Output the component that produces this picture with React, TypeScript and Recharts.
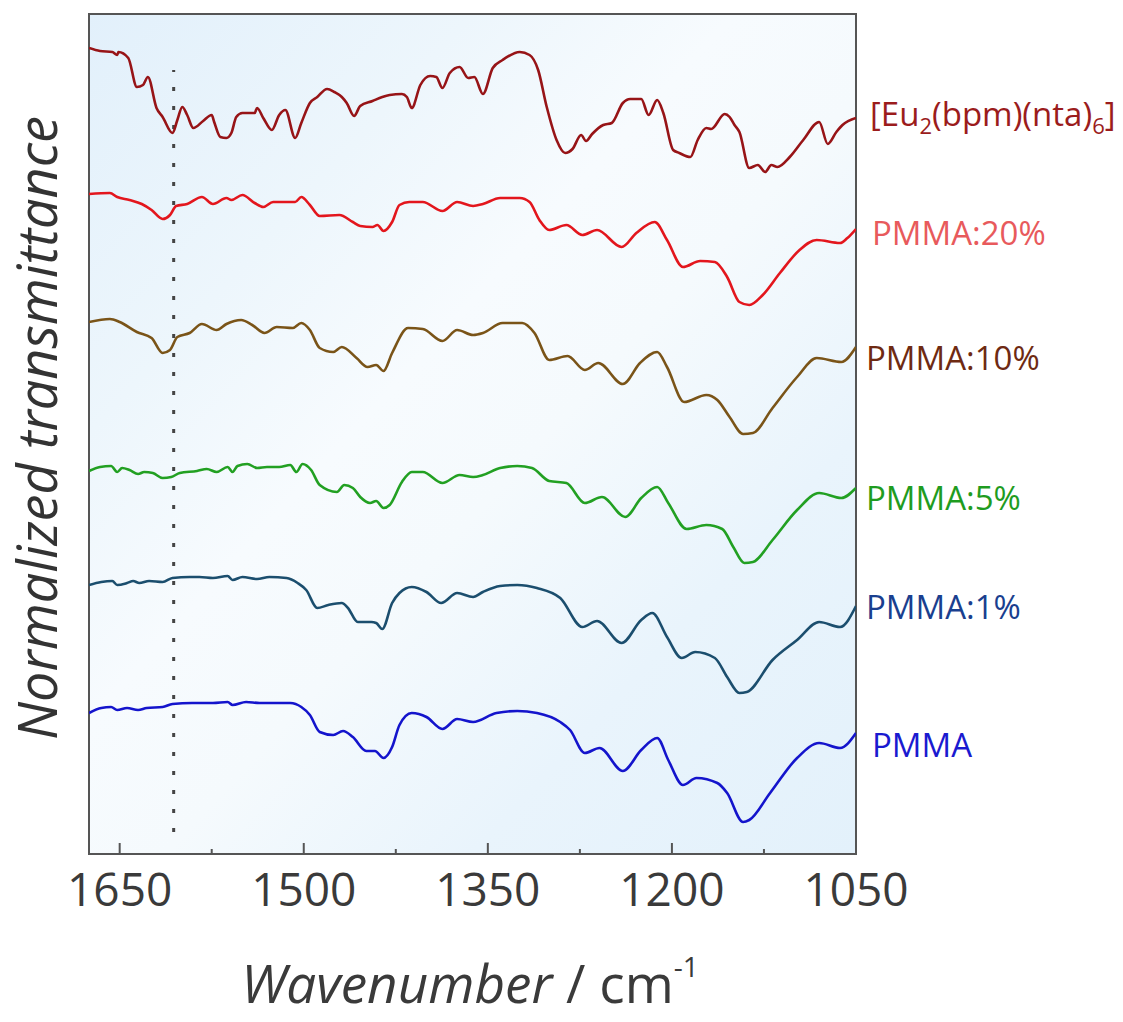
import { LineChart, Line, XAxis, YAxis, ReferenceArea, ReferenceLine } from "recharts";

type Pt = [number, number];

// wavenumber (cm-1), normalized transmittance (offset per trace)
const euSpectrum: Pt[] = [
  [1675, 80.6], [1666, 80.3], [1656, 80.2], [1652, 79.9], [1651, 80.2], [1643, 79.6], [1636, 76.7], [1631, 76.9],
  [1627, 77.7], [1620, 74.6], [1615, 73.7], [1607, 72.1], [1603, 73.4], [1599, 74.7], [1595, 73.9], [1590, 72.6],
  [1582, 73.3], [1575, 73.9], [1573, 73.2], [1568, 71.7], [1563, 71.6], [1559, 72.1], [1555, 73.7], [1550, 74.1],
  [1540, 74.1], [1538, 74.6], [1533, 73.6], [1526, 72.4], [1520, 73.9], [1515, 74.4], [1507, 71.6], [1502, 73.1],
  [1495, 75.1], [1489, 75.7], [1481, 76.5], [1475, 76.2], [1469, 75.7], [1465, 75.1], [1459, 73.8], [1454, 74.8],
  [1444, 75.3], [1436, 75.7], [1430, 75.9], [1420, 76.0], [1416, 75.7], [1412, 74.6], [1405, 76.9], [1397, 77.8],
  [1392, 77.7], [1387, 76.6], [1381, 78.1], [1373, 78.7], [1366, 77.6], [1361, 77.7], [1354, 76.0], [1346, 78.6],
  [1338, 79.4], [1324, 80.2], [1316, 79.9], [1309, 78.4], [1302, 74.7], [1294, 71.4], [1287, 70.1], [1281, 70.5],
  [1274, 71.9], [1270, 71.3], [1265, 72.0], [1256, 72.9], [1249, 73.1], [1240, 75.1], [1234, 75.5], [1225, 75.5],
  [1219, 73.9], [1212, 75.4], [1207, 74.1], [1199, 70.4], [1194, 70.1], [1185, 69.7], [1179, 71.4], [1172, 72.6],
  [1168, 72.5], [1157, 74.0], [1153, 73.7], [1149, 72.9], [1145, 72.2], [1137, 68.6], [1130, 68.9], [1124, 68.2],
  [1119, 68.9], [1114, 68.7], [1104, 69.7], [1093, 71.4], [1080, 73.2], [1073, 71.0], [1066, 72.2], [1061, 72.9],
  [1050, 73.6],
];

const pmma20: Pt[] = [
  [1675, 66.0], [1658, 66.1], [1652, 65.7], [1642, 65.4], [1632, 65.0], [1624, 64.4], [1615, 63.5], [1609, 63.9],
  [1604, 64.8], [1595, 65.0], [1583, 65.7], [1574, 65.0], [1563, 65.6], [1559, 65.4], [1550, 65.9], [1540, 65.1],
  [1533, 64.7], [1525, 65.2], [1507, 65.2], [1502, 65.7], [1495, 64.9], [1487, 63.8], [1471, 63.9], [1460, 63.2],
  [1454, 62.8], [1444, 62.7], [1440, 62.9], [1435, 62.3], [1428, 63.2], [1422, 64.9], [1414, 65.2], [1403, 65.2],
  [1387, 64.3], [1375, 65.2], [1362, 64.8], [1354, 65.0], [1340, 65.6], [1324, 65.6], [1316, 65.2], [1308, 63.4],
  [1300, 62.4], [1286, 62.9], [1273, 61.9], [1261, 62.4], [1241, 60.7], [1229, 62.1], [1214, 63.2], [1204, 61.4],
  [1191, 58.7], [1177, 59.3], [1165, 59.2], [1155, 57.7], [1145, 55.2], [1137, 54.9], [1126, 55.9], [1112, 58.1],
  [1096, 60.4], [1082, 61.4], [1063, 61.1], [1057, 61.6], [1050, 62.5],
];

const pmma10: Pt[] = [
  [1675, 53.2], [1658, 53.5], [1650, 53.2], [1636, 52.2], [1624, 51.6], [1615, 50.1], [1609, 50.4], [1603, 51.7],
  [1593, 52.1], [1583, 53.0], [1571, 52.4], [1563, 53.0], [1551, 53.4], [1542, 52.9], [1532, 52.1], [1522, 52.7],
  [1509, 52.6], [1502, 53.1], [1495, 52.4], [1487, 50.6], [1476, 50.2], [1469, 50.7], [1457, 49.6], [1448, 48.7],
  [1441, 48.9], [1435, 48.3], [1428, 50.1], [1415, 52.6], [1403, 52.5], [1387, 51.3], [1375, 52.4], [1362, 51.9],
  [1354, 52.1], [1338, 53.1], [1322, 53.1], [1312, 52.1], [1300, 49.4], [1285, 49.8], [1271, 48.4], [1260, 49.1],
  [1240, 47.0], [1226, 49.1], [1212, 50.2], [1204, 48.7], [1190, 45.2], [1172, 45.9], [1163, 45.4], [1153, 43.7],
  [1142, 42.0], [1134, 42.1], [1118, 44.6], [1098, 47.7], [1082, 49.6], [1062, 49.2], [1050, 50.7],
];

const pmma5: Pt[] = [
  [1675, 38.3], [1666, 38.7], [1657, 38.8], [1652, 38.2], [1648, 38.6], [1642, 38.4], [1635, 38.0], [1630, 38.2],
  [1623, 38.1], [1615, 37.6], [1608, 37.7], [1601, 38.1], [1587, 38.3], [1579, 38.5], [1571, 38.2], [1562, 38.7],
  [1558, 38.2], [1554, 38.8], [1546, 39.0], [1538, 38.6], [1530, 38.7], [1520, 38.7], [1511, 38.9], [1506, 38.2],
  [1501, 39.0], [1494, 38.4], [1487, 36.9], [1473, 36.2], [1467, 36.9], [1460, 36.6], [1454, 35.7], [1446, 35.1],
  [1441, 35.3], [1435, 34.6], [1430, 34.9], [1420, 37.2], [1412, 38.2], [1403, 38.2], [1387, 37.1], [1373, 37.9],
  [1362, 37.7], [1354, 37.9], [1340, 38.6], [1326, 38.8], [1314, 38.6], [1300, 37.3], [1286, 37.1], [1271, 35.1],
  [1257, 35.7], [1238, 33.7], [1225, 35.6], [1212, 36.7], [1203, 35.1], [1188, 32.5], [1172, 32.9], [1159, 32.5],
  [1150, 30.7], [1141, 29.1], [1134, 29.2], [1118, 31.4], [1098, 34.4], [1080, 36.1], [1062, 35.6], [1050, 36.6],
];

const pmma1: Pt[] = [
  [1675, 26.9], [1665, 27.2], [1656, 27.3], [1652, 26.9], [1644, 27.1], [1639, 27.3], [1634, 27.1], [1626, 27.3],
  [1615, 27.2], [1607, 27.6], [1593, 27.7], [1585, 27.7], [1574, 27.6], [1562, 27.8], [1558, 27.4], [1550, 27.7],
  [1538, 27.5], [1528, 27.7], [1514, 27.6], [1505, 27.1], [1498, 26.4], [1489, 24.6], [1480, 24.9], [1469, 25.1],
  [1464, 24.6], [1456, 23.2], [1445, 23.2], [1441, 23.1], [1436, 22.5], [1428, 25.1], [1422, 26.1], [1412, 26.7],
  [1400, 26.2], [1388, 25.1], [1375, 26.1], [1362, 25.7], [1354, 26.2], [1340, 26.8], [1326, 26.9], [1310, 26.6],
  [1291, 25.6], [1273, 22.7], [1261, 23.3], [1241, 21.1], [1225, 23.4], [1216, 24.1], [1204, 21.7], [1192, 19.6],
  [1181, 20.2], [1165, 19.6], [1155, 17.7], [1145, 16.1], [1139, 16.2], [1118, 19.4], [1098, 21.4], [1080, 23.2],
  [1063, 22.7], [1050, 24.8],
];

const pmma0: Pt[] = [
  [1675, 14.1], [1665, 14.6], [1657, 14.7], [1652, 14.4], [1644, 14.6], [1635, 14.4], [1628, 14.6], [1615, 14.7],
  [1607, 15.0], [1591, 15.1], [1574, 15.1], [1562, 15.2], [1558, 14.9], [1547, 15.2], [1536, 15.1], [1520, 15.1],
  [1511, 15.1], [1502, 14.7], [1495, 13.9], [1487, 12.2], [1476, 11.9], [1468, 12.3], [1460, 11.7], [1449, 10.3],
  [1442, 10.3], [1435, 9.6], [1428, 10.7], [1422, 12.9], [1412, 14.1], [1400, 13.7], [1387, 12.5], [1375, 13.5],
  [1362, 13.2], [1343, 14.1], [1326, 14.3], [1310, 14.1], [1291, 13.2], [1283, 12.4], [1271, 10.1], [1259, 10.6],
  [1240, 8.3], [1225, 10.4], [1212, 11.6], [1203, 9.4], [1191, 6.9], [1180, 7.6], [1163, 7.1], [1155, 6.1],
  [1142, 3.2], [1137, 3.4], [1120, 6.1], [1098, 9.6], [1080, 11.1], [1063, 10.6], [1050, 12.1],
];

const xTicks = [1650, 1575, 1500, 1425, 1350, 1275, 1200, 1125, 1050];
const majorTicks = [1650, 1500, 1350, 1200, 1050];
const markerWn = 1606;

const series = [
  { name: "eu", pts: euSpectrum, color: "#971417" },
  { name: "p20", pts: pmma20, color: "#e3161d" },
  { name: "p10", pts: pmma10, color: "#7a5418" },
  { name: "p5", pts: pmma5, color: "#22a022" },
  { name: "p1", pts: pmma1, color: "#1b4e6e" },
  { name: "p0", pts: pmma0, color: "#1414cc" },
];

const FONT = "'Open Sans', 'Noto Sans', sans-serif";

const WnTick = ({ x, y, payload }: any) => {
  const major = majorTicks.includes(payload.value);
  return (
    <g>
      <line x1={x} x2={x} y1={y} y2={y - (major ? 11 : 5)} stroke="#555" strokeWidth={2} />
      {major && (
        <text x={x} y={y + 52} textAnchor="middle" fontSize={46} fill="#3a3a3a" fontFamily={FONT}>
          {payload.value}
        </text>
      )}
    </g>
  );
};

export default function App() {
  const W = 1123;
  const H = 1022;
  return (
    <div style={{ position: "absolute", left: 0, top: 0, width: W, height: H, background: "#fff" }}>
      <LineChart width={W} height={H} margin={{ top: 14, right: 267, bottom: 108, left: 89 }}>
        <defs>
          <linearGradient id="plotBg" x1="0" y1="0" x2="1" y2="1">
            <stop offset="0%" stopColor="#e2f0fb" />
            <stop offset="25%" stopColor="#edf6fc" />
            <stop offset="42%" stopColor="#f7fbfe" />
            <stop offset="55%" stopColor="#f5fafd" />
            <stop offset="75%" stopColor="#e9f4fc" />
            <stop offset="100%" stopColor="#e3f1fb" />
          </linearGradient>
        </defs>
        <XAxis
          dataKey="wn"
          type="number"
          domain={[1050, 1675]}
          reversed
          allowDataOverflow
          ticks={xTicks}
          interval={0}
          axisLine={false}
          tickLine={false}
          tickSize={0}
          tickMargin={0}
          height={60}
          tick={<WnTick />}
        />
        <YAxis type="number" domain={[0, 84]} hide allowDataOverflow />
        <ReferenceArea
          x1={1675}
          x2={1050}
          y1={0}
          y2={84}
          fill="url(#plotBg)"
          fillOpacity={1}
          stroke="#555"
          strokeWidth={2}
          ifOverflow="visible"
        />
        <ReferenceLine
          segment={[{ x: markerWn, y: 2.2 }, { x: markerWn, y: 78.4 }]}
          stroke="#444"
          strokeWidth={3}
          strokeDasharray="4 15"
          ifOverflow="visible"
        />
        {series.map((s) => (
          <Line
            key={s.name}
            data={s.pts.map(([wn, t]) => ({ wn, t }))}
            dataKey="t"
            type="monotone"
            stroke={s.color}
            strokeWidth={2.6}
            dot={false}
            isAnimationActive={false}
          />
        ))}
      </LineChart>
      <svg width={W} height={H} style={{ position: "absolute", left: 0, top: 0, pointerEvents: "none" }}>
        <text
          x={36}
          y={428}
          transform="rotate(-90 36 428)"
          textAnchor="middle"
          dominantBaseline="central"
          fontSize={54}
          fontStyle="italic"
          fill="#333"
          fontFamily={FONT}
        >
          Normalized transmittance
        </text>
        <text x={470} y={1003} textAnchor="middle" fontSize={53} fill="#3a3a3a" fontFamily={FONT}>
          <tspan fontStyle="italic">Wavenumber</tspan>
          <tspan> / cm</tspan>
          <tspan fontSize={28} dy={-26}>-1</tspan>
        </text>
        <g fontFamily={FONT} fontSize={33}>
          <text x={870} y={126} fill="#9b1c1c">
            [Eu<tspan fontSize={22} dy={8}>2</tspan>
            <tspan dy={-8}>(bpm)(nta)</tspan>
            <tspan fontSize={22} dy={8}>6</tspan>
            <tspan dy={-8}>]</tspan>
          </text>
          <text x={872} y={245} fill="#e85a5c">PMMA:20%</text>
          <text x={866} y={370} fill="#6e2a12">PMMA:10%</text>
          <text x={866} y={510} fill="#1f9c1f">PMMA:5%</text>
          <text x={866} y={619} fill="#1a3f8f">PMMA:1%</text>
          <text x={872} y={757} fill="#1a1ad0">PMMA</text>
        </g>
      </svg>
    </div>
  );
}
